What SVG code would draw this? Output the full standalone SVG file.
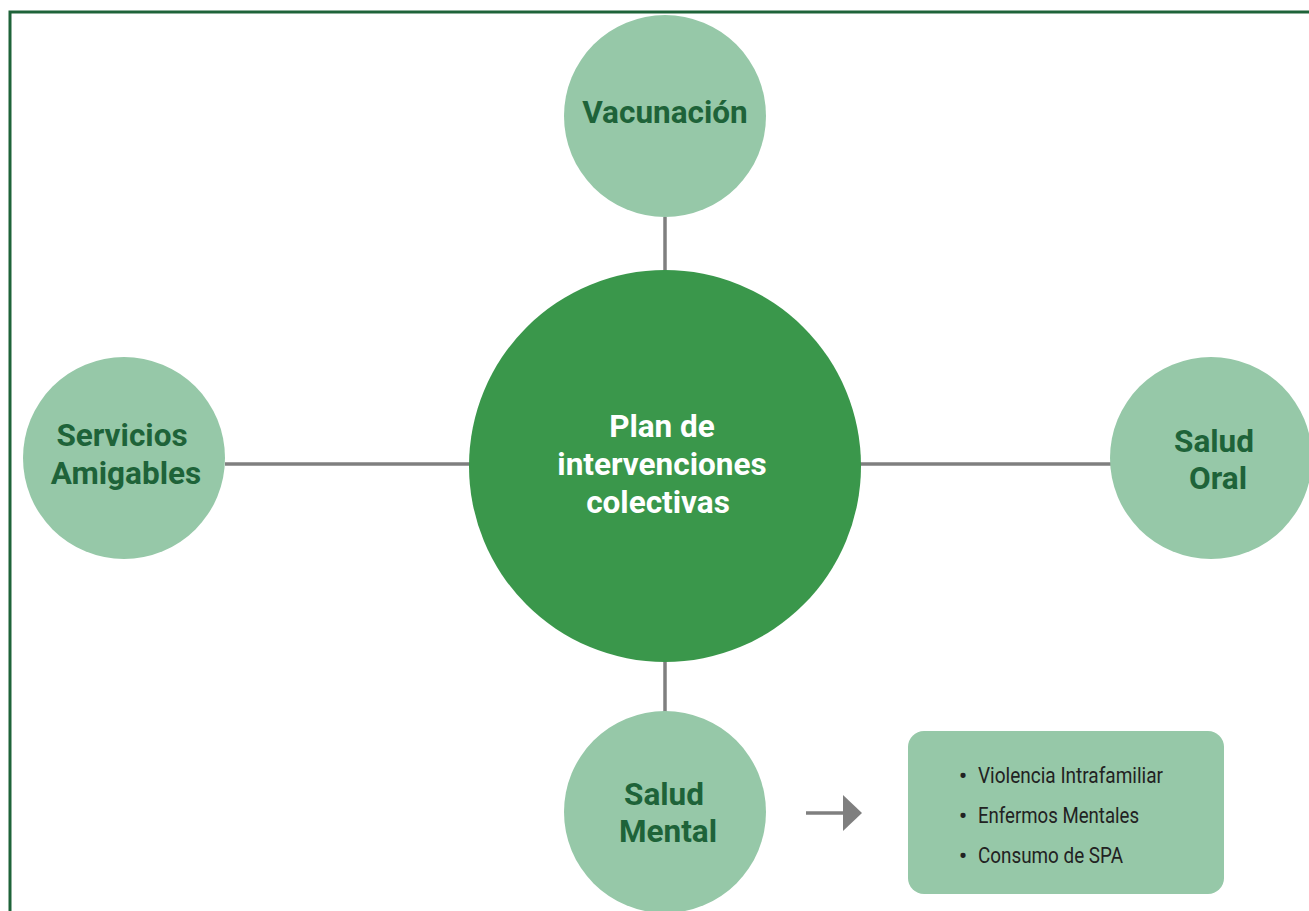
<svg xmlns="http://www.w3.org/2000/svg" width="1309" height="911" viewBox="0 0 1309 911">
<style>
.sat{fill:#96c8a8}
.lbl{font-family:Roboto,"Liberation Sans",sans-serif;font-weight:bold;font-size:31.5px;fill:#1e6339;text-anchor:middle}
.ctr{font-family:Roboto,"Liberation Sans",sans-serif;font-weight:bold;font-size:31.5px;fill:#ffffff;text-anchor:middle}
.itm{font-family:Roboto,"Liberation Sans",sans-serif;font-size:22px;fill:#222222}
.bul{font-family:Roboto,"Liberation Sans",sans-serif;font-size:22px;font-weight:bold;fill:#222222}
.con{stroke:#7f7f7f;stroke-width:3.5;fill:none}
</style>
<rect x="0" y="0" width="1309" height="911" fill="#ffffff"/>
<path d="M10 911 V12 H1309" fill="none" stroke="#1e6339" stroke-width="3"/>
<g id="connectors">
<line class="con" x1="665" y1="217" x2="665" y2="272"/>
<line class="con" x1="225" y1="464" x2="471" y2="464"/>
<line class="con" x1="859" y1="464" x2="1111" y2="464"/>
<line class="con" x1="665" y1="659" x2="665" y2="712"/>
<line class="con" x1="806" y1="813" x2="845" y2="813"/>
<polygon points="843,795 862,813 843,831" fill="#7f7f7f"/>
</g>
<g id="vacunacion">
<circle class="sat" cx="665" cy="116" r="101"/>
<text class="lbl" x="665" y="123">Vacunación</text>
</g>
<g id="plan">
<circle cx="665" cy="466" r="196" fill="#3a974b"/>
<text class="ctr" x="662" y="437">Plan de</text>
<text class="ctr" x="662" y="475">intervenciones</text>
<text class="ctr" x="658" y="513">colectivas</text>
</g>
<g id="servicios">
<circle class="sat" cx="124" cy="458" r="101"/>
<text class="lbl" x="122" y="446">Servicios</text>
<text class="lbl" x="126" y="484">Amigables</text>
</g>
<g id="saludoral">
<circle class="sat" cx="1211" cy="458" r="101"/>
<text class="lbl" x="1214" y="452">Salud</text>
<text class="lbl" x="1218" y="489">Oral</text>
</g>
<g id="saludmental">
<circle class="sat" cx="665" cy="812" r="101"/>
<text class="lbl" x="664" y="805">Salud</text>
<text class="lbl" x="668" y="842">Mental</text>
</g>
<g id="detalle">
<rect x="908" y="731" width="316" height="163" rx="16" class="sat"/>
<text class="bul" x="959" y="783">•</text>
<text class="itm" x="978" y="783" textLength="185" lengthAdjust="spacingAndGlyphs">Violencia Intrafamiliar</text>
<text class="bul" x="959" y="823">•</text>
<text class="itm" x="978" y="823" textLength="161" lengthAdjust="spacingAndGlyphs">Enfermos Mentales</text>
<text class="bul" x="959" y="863">•</text>
<text class="itm" x="978" y="863" textLength="145" lengthAdjust="spacingAndGlyphs">Consumo de SPA</text>
</g>
</svg>
